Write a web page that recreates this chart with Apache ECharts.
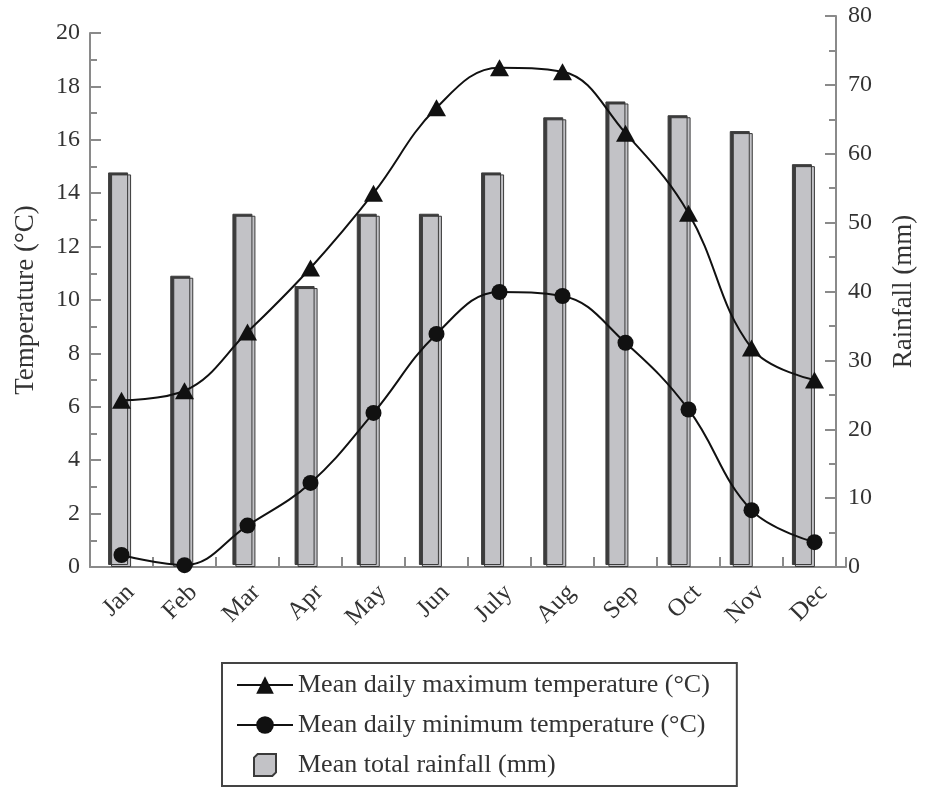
<!DOCTYPE html>
<html><head><meta charset="utf-8">
<script src="https://cdn.jsdelivr.net/npm/echarts@6/dist/echarts.min.js"></script>
<style>html,body{margin:0;padding:0;background:#fff}#c{width:925px;height:790px}</style>
</head><body><div id="c"></div>
<script>
var months = ['Jan','Feb','Mar','Apr','May','Jun','July','Aug','Sep','Oct','Nov','Dec'];
var maxTemp = [6.25, 6.6, 8.8, 11.2, 14.0, 17.2, 18.7, 18.55, 16.25, 13.25, 8.2, 7.0];
var minTemp = [0.45, 0.07, 1.55, 3.15, 5.77, 8.73, 10.3, 10.15, 8.4, 5.9, 2.13, 0.93];
var rainfall = [57, 42, 51, 40.5, 51, 51, 57, 65, 67.3, 65.3, 63, 58.2];
var tempTicks = {min: 0, max: 20, interval: 2};
var rainTicks = {min: 0, max: 80, interval: 10};
var names = {
  max: 'Mean daily maximum temperature (\u00B0C)',
  min: 'Mean daily minimum temperature (\u00B0C)',
  rain: 'Mean total rainfall (mm)'
};

var FONT = 'Liberation Serif';
var TXT = '#333';
var AX = '#8a8a8a';
var chart = echarts.init(document.getElementById('c'), null, {renderer: 'canvas'});
var axisLabel = {color: TXT, fontFamily: FONT, fontSize: 24};
chart.setOption({
  animation: false,
  textStyle: {fontFamily: FONT},
  grid: [
    {left: 90, right: 79, top: 33, bottom: 223},
    {left: 90, right: 79, top: 16, bottom: 223}
  ],
  xAxis: [
    {type: 'category', gridIndex: 0, data: months, boundaryGap: true,
     axisLine: {lineStyle: {color: AX, width: 2}},
     axisTick: {show: true, inside: true, length: 10, lineStyle: {color: AX, width: 2}},
     axisLabel: {rotate: 45, margin: 13, interval: 0, verticalAlign: 'top', color: TXT, fontFamily: FONT, fontSize: 25},
     splitLine: {show: false}},
    {type: 'category', gridIndex: 1, data: months, boundaryGap: true, show: false}
  ],
  yAxis: [
    {type: 'value', gridIndex: 0, position: 'left', min: tempTicks.min, max: tempTicks.max, interval: tempTicks.interval,
     name: 'Temperature (\u00B0C)', nameLocation: 'middle', nameGap: 51,
     nameTextStyle: {color: TXT, fontFamily: FONT, fontSize: 27},
     axisLine: {show: true, lineStyle: {color: AX, width: 2}},
     axisTick: {show: true, inside: true, length: 11, lineStyle: {color: AX, width: 2}},
     minorTick: {show: true, splitNumber: 2, length: 7, lineStyle: {color: AX, width: 2}},
     axisLabel: Object.assign({margin: 10}, axisLabel),
     splitLine: {show: false}},
    {type: 'value', gridIndex: 1, position: 'right', min: rainTicks.min, max: rainTicks.max, interval: rainTicks.interval,
     name: 'Rainfall (mm)', nameLocation: 'middle', nameGap: 54,
     nameTextStyle: {color: TXT, fontFamily: FONT, fontSize: 27},
     axisLine: {show: true, lineStyle: {color: AX, width: 2}},
     axisTick: {show: true, inside: true, length: 11, lineStyle: {color: AX, width: 2}},
     minorTick: {show: true, splitNumber: 2, length: 7, lineStyle: {color: AX, width: 2}},
     axisLabel: Object.assign({margin: 12}, axisLabel),
     splitLine: {show: false}}
  ],
  legend: {
    orient: 'vertical', left: 222, top: 663,
    padding: [9, 27, 8, 14], itemGap: 14, itemWidth: 56, itemHeight: 22,
    borderColor: '#444', borderWidth: 2, borderRadius: 0,
    textStyle: {color: TXT, fontFamily: FONT, fontSize: 26},
    data: [
      {name: names.max},
      {name: names.min},
      {name: names.rain, icon: 'path://M0,3 L3,0 L18,0 L18,15 L15,18 L0,18 Z'}
    ]
  },
  series: [
    {name: names.rain, type: 'bar', xAxisIndex: 1, yAxisIndex: 1, data: rainfall, barWidth: 20,
     itemStyle: {color: '#c2c2c6', borderColor: '#3a3a3a', borderWidth: 1,
                 shadowColor: '#3c3c3c', shadowBlur: 0, shadowOffsetX: -3, shadowOffsetY: -2}},
    {name: names.max, type: 'line', xAxisIndex: 0, yAxisIndex: 0, data: maxTemp, smooth: 0.4,
     symbol: 'triangle', symbolSize: [19, 17],
     lineStyle: {color: '#111', width: 2}, itemStyle: {color: '#111'}, z: 5},
    {name: names.min, type: 'line', xAxisIndex: 0, yAxisIndex: 0, data: minTemp, smooth: 0.4,
     symbol: 'circle', symbolSize: 16,
     lineStyle: {color: '#111', width: 2}, itemStyle: {color: '#111'}, z: 5}
  ]
});
</script></body></html>
